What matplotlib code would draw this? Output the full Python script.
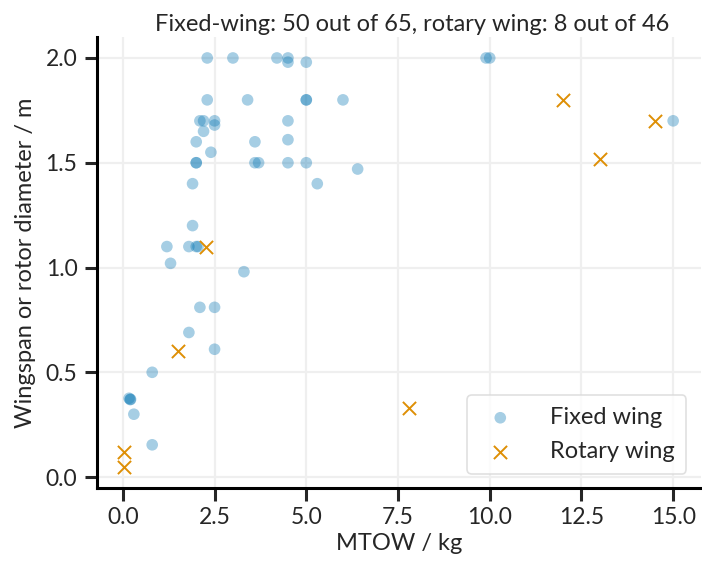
import matplotlib
matplotlib.use("Agg")
import matplotlib.pyplot as plt

# fixed-wing UAVs: MTOW (kg), wingspan (m)
fixed_mtow = [2.3, 3.0, 4.2, 4.5, 9.9, 10.0, 4.5, 5.0,
	2.3, 3.4, 5.0, 5.0, 6.0,
	2.1, 2.2, 2.5, 4.5, 15.0, 2.5, 2.2,
	2.0, 3.6, 4.5, 2.4,
	2.0, 2.0, 3.6, 3.7, 4.5, 5.0, 6.4,
	1.9, 5.3, 1.9,
	1.2, 1.8, 2.0, 2.05, 1.3, 3.3,
	2.1, 2.5, 1.8, 2.5, 0.8,
	0.17, 0.21, 0.3, 0.8, 0.2]
fixed_span = [2.0, 2.0, 2.0, 2.0, 2.0, 2.0, 1.98, 1.98,
	1.8, 1.8, 1.8, 1.8, 1.8,
	1.7, 1.7, 1.7, 1.7, 1.7, 1.68, 1.65,
	1.6, 1.6, 1.61, 1.55,
	1.5, 1.5, 1.5, 1.5, 1.5, 1.5, 1.47,
	1.4, 1.4, 1.2,
	1.1, 1.1, 1.1, 1.1, 1.02, 0.98,
	0.81, 0.81, 0.69, 0.61, 0.5,
	0.376, 0.371, 0.3, 0.154, 0.37]

# rotary-wing UAVs: MTOW (kg), rotor diameter (m)
rotary_mtow = [12.0, 14.5, 13.0, 2.27, 1.5, 7.8, 0.04, 0.04]
rotary_diam = [1.8, 1.7, 1.52, 1.1, 0.6, 0.33, 0.12, 0.046]

title = "Fixed-wing: 50 out of 65, rotary wing: 8 out of 46"

plt.rcParams['font.family'] = ['Lato', 'DejaVu Sans']
plt.rcParams['text.color'] = '#262626'
plt.rcParams['axes.labelcolor'] = '#262626'
plt.rcParams['xtick.color'] = '#262626'
plt.rcParams['ytick.color'] = '#262626'

fig = plt.figure(figsize=(7.02,5.68),dpi=100)
ax = fig.add_axes([0.138,0.141,0.86,0.793])

ax.scatter(fixed_mtow,fixed_span,s=70,c='#0173b2',alpha=0.35,
	edgecolors='none',label='Fixed wing',zorder=3)
ax.scatter(rotary_mtow,rotary_diam,s=90,c='#de8f05',marker='x',
	linewidths=1.4,label='Rotary wing',zorder=3)

ax.set_xticks([0,2.5,5,7.5,10,12.5,15])
ax.set_yticks([0,0.5,1.0,1.5,2.0])
ax.xaxis.set_major_formatter(matplotlib.ticker.FormatStrFormatter('%.1f'))
ax.yaxis.set_major_formatter(matplotlib.ticker.FormatStrFormatter('%.1f'))

ax.grid(True,color='#efefef',linewidth=1.6,zorder=0)
ax.set_axisbelow(True)

for side in ['top','right']:
	ax.spines[side].set_visible(False)
for side in ['left','bottom']:
	ax.spines[side].set_linewidth(2.2)
	ax.spines[side].set_color('black')

ax.tick_params(axis='both',length=9,width=2.2,labelsize=16.5,pad=5)

ax.set_xlabel('MTOW / kg',fontsize=17,labelpad=3)
ax.set_ylabel('Wingspan or rotor diameter / m',fontsize=17,labelpad=7)
ax.set_title(title,fontsize=17,pad=5,x=0.522)

leg = ax.legend(loc='lower right',fontsize=17,handletextpad=1.2,
	borderpad=0.5,labelspacing=0.55,frameon=True,markerscale=1.0,
	handlelength=1.8,borderaxespad=0.6)
leg.get_frame().set_edgecolor('#d9d9d9')
leg.get_frame().set_linewidth(1.2)
leg.legend_handles[0].set_alpha(0.35)

fig.savefig('out.png',dpi=100)
